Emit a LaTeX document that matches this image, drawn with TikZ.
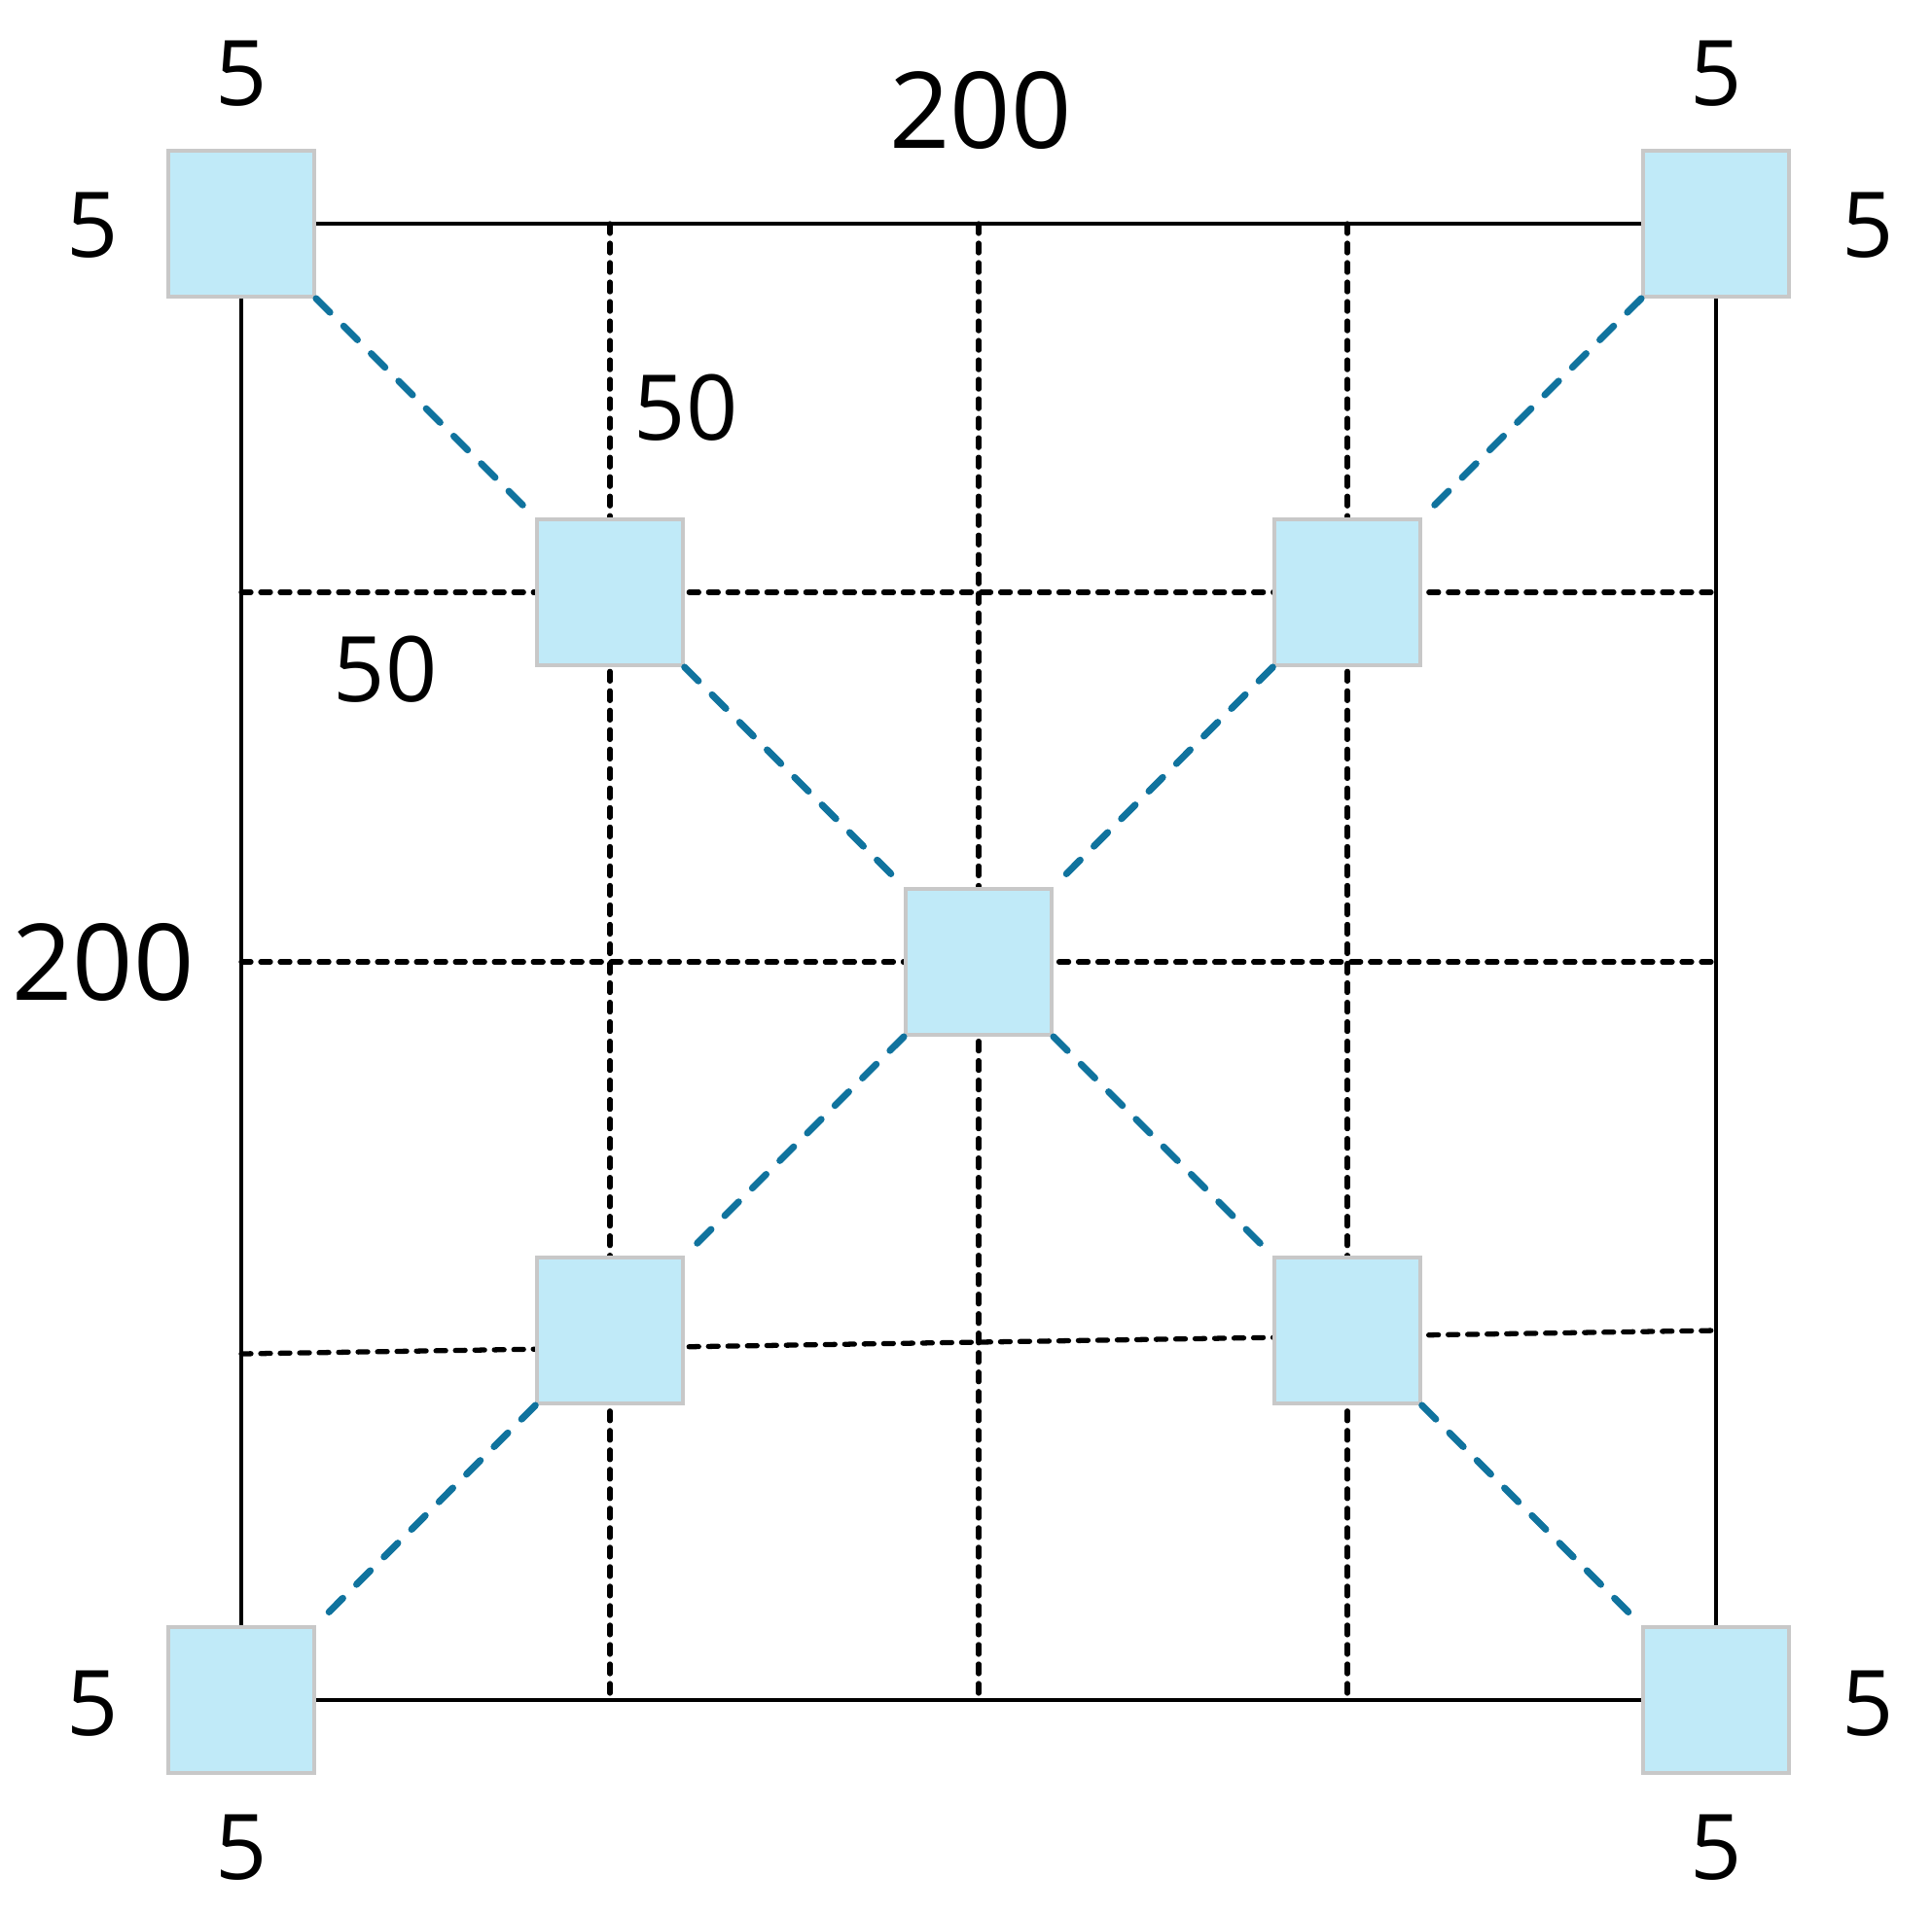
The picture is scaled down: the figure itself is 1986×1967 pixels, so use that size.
\documentclass[tikz,border=0pt]{standalone}
\usepackage{fontspec}
\setmainfont{Open Sans}
\definecolor{boxfill}{RGB}{192,234,248}
\definecolor{boxline}{RGB}{200,200,200}
\definecolor{linkblue}{RGB}{16,115,158}
\tikzset{
  cell/.style={draw=boxline,line width=1.1pt,fill=boxfill,minimum size=1.5cm,inner sep=0pt},
  gridline/.style={line width=1.5pt,line cap=round,dash pattern=on 0.1cm off 0.1cm},
  link/.style={linkblue,line width=2pt,line cap=round,dash pattern=on 0.2cm off 0.2cm},
  small/.style={font=\fontsize{26.5}{30}\selectfont},
  big/.style={font=\fontsize{31}{36}\selectfont}
}
\begin{document}
\begin{tikzpicture}[x=0.01cm,y=-0.01cm]
        \useasboundingbox (0,0) rectangle (1986,1967);
        % grid lines behind the boxes
        \coordinate (v1t) at (627,230);   \coordinate (v1b) at (627,1748);
        \coordinate (v2t) at (1006,230);  \coordinate (v2b) at (1006,1748);
        \coordinate (v3t) at (1385,230);  \coordinate (v3b) at (1385,1748);
        \coordinate (h1l) at (248,609);   \coordinate (h1r) at (1764,609);
        \coordinate (h2l) at (248,989);   \coordinate (h2r) at (1764,989);
        \coordinate (h3l) at (248,1392);  \coordinate (h3r) at (1764,1368);
        \draw[gridline] (v1t)--(v1b);
        \draw[gridline] (v2t)--(v2b);
        \draw[gridline] (v3t)--(v3b);
        \draw[gridline] (h1l)--(h1r);
        \draw[gridline] (h2l)--(h2r);
        \draw[gridline] (h3l)--(h3r);

        \node[cell] (tl) at (248,230) {};
        \node[cell] (tr) at (1764,230) {};
        \node[cell] (bl) at (248,1748) {};
        \node[cell] (br) at (1764,1748) {};
        \node[cell] (itl) at (627,609) {};
        \node[cell] (itr) at (1385,609) {};
        \node[cell] (ibl) at (627,1368) {};
        \node[cell] (ibr) at (1385,1368) {};
        \node[cell] (c) at (1006,989) {};

        \draw[line width=1.3pt] (tl)--(tr);
        \draw[line width=1.3pt] (tr)--(br);
        \draw[line width=1.3pt] (br)--(bl);
        \draw[line width=1.3pt] (bl)--(tl);

        \draw[link] (tl)--(itl);
        \draw[link] (itl)--(c);
        \draw[link] (c)--(ibr);
        \draw[link] (ibr)--(br);
        \draw[link] (tr)--(itr);
        \draw[link] (itr)--(c);
        \draw[link] (c)--(ibl);
        \draw[link] (ibl)--(bl);

        \node[small] (tlu) at (248,76) {5};
        \node[small] (tll) at (95,232) {5};
        \node[small] (tru) at (1764,76) {5};
        \node[small] (trr) at (1920,232) {5};
        \node[small] (bll) at (95,1752) {5};
        \node[small] (bld) at (248,1900) {5};
        \node[small] (brr) at (1920,1752) {5};
        \node[small] (brd) at (1764,1900) {5};
        \node[big] (wtop) at (1008,114) {200};
        \node[big] (wleft) at (106,989) {200};
        \node[small] (sv) at (705,419) {50};
        \node[small] (sh) at (396,688) {50};
\end{tikzpicture}
\end{document}
